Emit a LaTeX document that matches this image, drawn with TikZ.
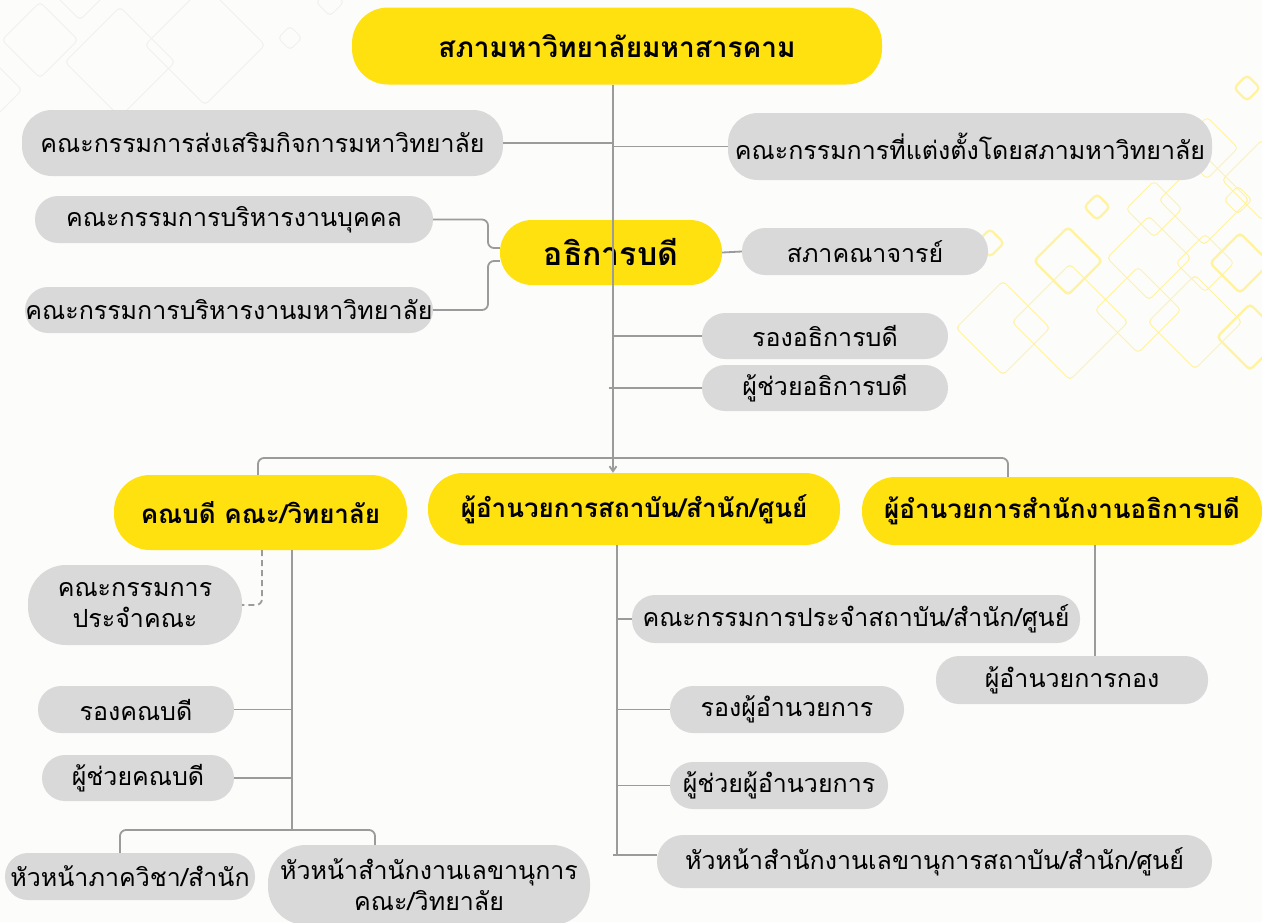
\documentclass[tikz,border=0pt]{standalone}
\usepackage{fontspec}
\setmainfont[Script=Thai]{Loma}
\usetikzlibrary{arrows.meta,calc}
\definecolor{yel}{HTML}{FFE10F}
\definecolor{gry}{HTML}{D9D9D9}
\definecolor{ln}{HTML}{9B9B9B}
\definecolor{bg}{HTML}{FCFCFA}
\definecolor{dgray}{HTML}{F0F0EE}
\definecolor{dyel}{HTML}{FFF2A0}
\begin{document}
\begin{tikzpicture}[x=1pt,y=-1pt,
  ybox/.style={fill=yel, rounded corners=30, inner sep=0pt, align=center,
    font=\bfseries\fontsize{26}{30}\selectfont},
  gbox/.style={fill=gry, rounded corners=23, inner sep=0pt, align=center,
    font=\fontsize{25}{31}\selectfont},
  conn/.style={draw=ln, line width=1.8pt, rounded corners=6},
  dconn/.style={conn, dash pattern=on 6pt off 4pt},
  arr/.style={conn, -{Straight Barb[length=5pt,width=7pt]}}]
\useasboundingbox (0,0) rectangle (1262,922);
\fill[bg] (0,0) rectangle (1262,922);
% background diamonds
\begin{scope}
\clip (0,0) rectangle (1262,922);
\foreach \cx/\cy/\h in {40/40/38, 120/62/55, 205/45/60, 290/38/12, 330/2/14, -10/90/32, 80/-10/30}
  \draw[dgray, line width=1pt, rounded corners=4] (\cx,\cy-\h) -- (\cx+\h,\cy) -- (\cx,\cy+\h) -- (\cx-\h,\cy) -- cycle;
\foreach \cx/\cy/\h/\w in {1247/88/13/2.2, 1097/207/13/2.2, 990/243/14/2.2, 1068/261/34/2.4,
  1207/148/31/0.8, 1154/209/28/0.8, 1204/200/45/1, 1238/200/14/1,
  1003/328/47/1, 1070/322/58/1, 1149/258/42/1, 1138/310/43/0.8, 1195/322/47/1,
  1250/337/33/2.4, 1240/263/30/2.4, 1205/263/29/0.8, 1262/180/40/1}
  \draw[dyel, line width=\w pt, rounded corners=4] (\cx,\cy-\h) -- (\cx+\h,\cy) -- (\cx,\cy+\h) -- (\cx-\h,\cy) -- cycle;
\end{scope}

% nodes
\node[ybox, minimum width=530, minimum height=77, rounded corners=36, font=\bfseries\fontsize{28}{32}\selectfont] (smu) at (617,46) {สภามหาวิทยาลัยมหาสารคาม};
\node[gbox, minimum width=481, minimum height=66, rounded corners=30] (ss) at (262.5,143) {คณะกรรมการส่งเสริมกิจการมหาวิทยาลัย};
\node[gbox, minimum width=484, minimum height=67, rounded corners=30] (tt) at (970,146.5) {คณะกรรมการที่แต่งตั้งโดยสภามหาวิทยาลัย};
\node[ybox, minimum width=222, minimum height=65, rounded corners=32, font=\bfseries\fontsize{32}{36}\selectfont] (adb) at (611,252.5) {อธิการบดี};
\node[gbox, minimum width=246, minimum height=47] (skj) at (865,251.5) {สภาคณาจารย์};
\node[gbox, minimum width=398, minimum height=47] (bk) at (234,219.5) {คณะกรรมการบริหารงานบุคคล};
\node[gbox, minimum width=408, minimum height=46] (bm) at (229,310) {คณะกรรมการบริหารงานมหาวิทยาลัย};
\node[gbox, minimum width=246, minimum height=46] (radb) at (825,336) {รองอธิการบดี};
\node[gbox, minimum width=246, minimum height=46] (padb) at (825,388) {ผู้ช่วยอธิการบดี};
\node[ybox, minimum width=293, minimum height=75, rounded corners=36] (dean) at (260.5,512.5) {คณบดี คณะ/วิทยาลัย};
\node[ybox, minimum width=412, minimum height=72, rounded corners=35] (dir) at (634,509) {ผู้อำนวยการสถาบัน/สำนัก/ศูนย์};
\node[ybox, minimum width=400, minimum height=68, rounded corners=33] (oad) at (1062,511) {ผู้อำนวยการสำนักงานอธิการบดี};
\node[gbox, minimum width=214, minimum height=80, rounded corners=38] (kpk) at (135,605) {คณะกรรมการ\\ประจำคณะ};
\node[gbox, minimum width=196, minimum height=47] (rdean) at (136,709.5) {รองคณบดี};
\node[gbox, minimum width=192, minimum height=46] (pdean) at (138,778) {ผู้ช่วยคณบดี};
\node[gbox, minimum width=250, minimum height=47] (hod) at (130,876.5) {หัวหน้าภาควิชา/สำนัก};
\node[gbox, minimum width=322, minimum height=80, rounded corners=38] (hsec) at (429,885) {หัวหน้าสำนักงานเลขานุการ\\คณะ/วิทยาลัย};
\node[gbox, minimum width=448, minimum height=48] (kps) at (856,619) {คณะกรรมการประจำสถาบัน/สำนัก/ศูนย์};
\node[gbox, minimum width=234, minimum height=47] (rdir) at (787,709.5) {รองผู้อำนวยการ};
\node[gbox, minimum width=218, minimum height=47] (pdir) at (779,785.5) {ผู้ช่วยผู้อำนวยการ};
\node[gbox, minimum width=555, minimum height=53, rounded corners=26] (hsi) at (934.5,861.5) {หัวหน้าสำนักงานเลขานุการสถาบัน/สำนัก/ศูนย์};
\node[gbox, minimum width=272, minimum height=48] (kong) at (1072,680) {ผู้อำนวยการกอง};

% coordinates
\coordinate (tr) at (613,0);
\coordinate (j1) at (488,248);
\coordinate (j2) at (488,261);
\coordinate (bl) at (258,458);
\coordinate (br) at (1008,458);
\coordinate (dv) at (292,830);
\coordinate (b2l) at (120,830);
\coordinate (b2r) at (375,830);
\coordinate (mv) at (617,855);
\coordinate (rv) at (1095,0);

% connectors
\draw[arr] (smu.south -| tr) -- (dir.north -| tr);
\draw[conn] (ss.east) -- (ss.east -| tr);
\draw[conn] (tt.west -| tr) -- (tt.west);
\draw[conn] (adb.east) -- (skj.west);
\draw[conn] (bk.east) -| (j1) -- (j1 -| adb.west);
\draw[conn] (bm.east) -| (j2) -- (j2 -| adb.west);
\draw[conn] (radb.west -| tr) -- (radb.west);
\draw[conn] ($(padb.west -| tr)+(-4,0)$) -- (padb.west);
\draw[conn] (bl |- dean.north) -- (bl) -- (br) -- (br |- oad.north);
% dean branch
\draw[conn] (dean.south -| dv) -- (dv);
\draw[dconn] (262,550) |- (kpk.east);
\draw[conn] (rdean.east) -- (rdean.east -| dv);
\draw[conn] (pdean.east) -- (pdean.east -| dv);
\draw[conn] (b2l |- hod.north) -- (b2l) -- (b2r) -- (b2r |- hsec.north);
% director branch
\draw[conn, rounded corners=0] (dir.south -| mv) -- (mv);
\draw[conn] (kps.west -| mv) -- (kps.west);
\draw[conn] (rdir.west -| mv) -- (rdir.west);
\draw[conn] (pdir.west -| mv) -- (pdir.west);
\draw[conn] ($(mv)+(-4,0)$) -- (hsi.west |- mv);
% office branch
\draw[conn] (oad.south -| rv) -- (kong.north -| rv);
\end{tikzpicture}
\end{document}
